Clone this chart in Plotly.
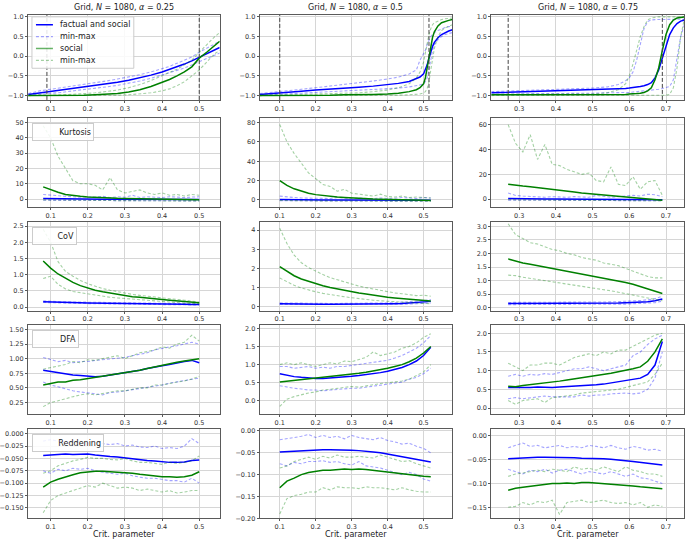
import plotly.graph_objects as go

# ---------------- data ----------------
alpha_labels = ["0.25", "0.5", "0.75"]
crit_25 = [0.09, 0.5]
crit_50 = [0.1, 0.515]
crit_75 = [0.27, 0.69]
legend_names = ["factual and social", "min-max", "social", "min-max"]
metric_labels = ["", "Kurtosis", "CoV", "DFA", "Reddening"]
x_title = "Crit. parameter"

# top row (order parameter) x grids
top_x_25 = [0.04, 0.07, 0.1, 0.13, 0.16, 0.19, 0.22, 0.25, 0.28, 0.31, 0.34, 0.37, 0.4, 0.42, 0.44, 0.46, 0.48, 0.5, 0.52, 0.54, 0.555]
top_fs_25 = [-0.97, -0.93, -0.9, -0.86, -0.82, -0.79, -0.75, -0.71, -0.66, -0.61, -0.55, -0.48, -0.4, -0.34, -0.27, -0.2, -0.12, -0.03, 0.07, 0.16, 0.22]
top_fs_max_25 = [-0.95, -0.88, -0.84, -0.8, -0.76, -0.72, -0.68, -0.63, -0.58, -0.53, -0.47, -0.4, -0.32, -0.26, -0.18, -0.1, -0.02, 0.1, 0.2, 0.3, 0.38]
top_fs_min_25 = [-0.99, -0.97, -0.95, -0.92, -0.88, -0.85, -0.82, -0.78, -0.74, -0.69, -0.63, -0.56, -0.48, -0.42, -0.36, -0.3, -0.22, -0.15, -0.05, 0.03, 0.08]
top_s_25 = [-1.0, -1.0, -1.0, -1.0, -0.99, -0.99, -0.98, -0.97, -0.95, -0.91, -0.85, -0.77, -0.67, -0.59, -0.5, -0.4, -0.27, -0.05, 0.1, 0.27, 0.38]
top_s_max_25 = [-1.0, -1.0, -0.99, -0.98, -0.97, -0.95, -0.93, -0.9, -0.86, -0.8, -0.72, -0.62, -0.5, -0.42, -0.33, -0.22, -0.1, 0.1, 0.3, 0.48, 0.6]
top_s_min_25 = [-1.0, -1.0, -1.0, -1.0, -1.0, -1.0, -1.0, -0.99, -0.99, -0.98, -0.96, -0.93, -0.88, -0.83, -0.75, -0.65, -0.5, -0.35, -0.15, 0.05, 0.15]

top_x_50 = [0.044, 0.08, 0.12, 0.16, 0.2, 0.24, 0.28, 0.32, 0.36, 0.4, 0.43, 0.46, 0.48, 0.49, 0.5, 0.505, 0.51, 0.515, 0.52, 0.525, 0.53, 0.54, 0.55, 0.56, 0.57, 0.58]
top_fs_50 = [-0.97, -0.95, -0.92, -0.89, -0.86, -0.84, -0.81, -0.79, -0.76, -0.72, -0.69, -0.64, -0.58, -0.53, -0.45, -0.35, -0.22, -0.05, 0.12, 0.25, 0.35, 0.47, 0.55, 0.6, 0.64, 0.67]
top_fs_max_50 = [-0.95, -0.92, -0.88, -0.84, -0.8, -0.76, -0.72, -0.68, -0.63, -0.58, -0.53, -0.45, -0.35, -0.1, 0.05, 0.15, 0.3, 0.4, 0.5, 0.55, 0.6, 0.65, 0.7, 0.73, 0.75, 0.76]
top_fs_min_50 = [-0.99, -0.98, -0.96, -0.94, -0.92, -0.9, -0.89, -0.87, -0.85, -0.83, -0.81, -0.78, -0.75, -0.73, -0.7, -0.65, -0.55, -0.35, -0.1, 0.15, 0.3, 0.42, 0.5, 0.55, 0.58, 0.6]
top_s_50 = [-1.0, -1.0, -1.0, -0.99, -0.99, -0.99, -0.98, -0.98, -0.97, -0.96, -0.94, -0.9, -0.85, -0.8, -0.7, -0.55, -0.3, 0.0, 0.28, 0.48, 0.62, 0.77, 0.85, 0.89, 0.91, 0.93]
top_s_max_50 = [-1.0, -0.99, -0.99, -0.98, -0.97, -0.96, -0.95, -0.93, -0.9, -0.86, -0.8, -0.7, -0.55, -0.4, -0.15, 0.1, 0.35, 0.55, 0.7, 0.8, 0.85, 0.9, 0.93, 0.95, 0.96, 0.97]
top_s_min_50 = [-1.0, -1.0, -1.0, -1.0, -1.0, -1.0, -1.0, -1.0, -1.0, -0.99, -0.99, -0.98, -0.97, -0.96, -0.93, -0.9, -0.82, -0.65, -0.35, -0.05, 0.2, 0.5, 0.65, 0.72, 0.77, 0.8]

top_x_75 = [0.224, 0.26, 0.3, 0.34, 0.38, 0.42, 0.46, 0.5, 0.54, 0.57, 0.59, 0.6, 0.61, 0.62, 0.63, 0.64, 0.65, 0.66, 0.67, 0.68, 0.69, 0.7, 0.71, 0.72, 0.73, 0.74, 0.75]
top_fs_75 = [-0.93, -0.92, -0.91, -0.9, -0.89, -0.88, -0.87, -0.86, -0.85, -0.83, -0.82, -0.81, -0.8, -0.79, -0.77, -0.75, -0.72, -0.67, -0.55, -0.35, -0.05, 0.3, 0.55, 0.72, 0.83, 0.89, 0.92]
top_fs_max_75 = [-0.9, -0.89, -0.88, -0.87, -0.86, -0.85, -0.83, -0.81, -0.78, -0.72, -0.62, -0.55, -0.4, -0.1, 0.3, 0.7, 0.88, 0.92, 0.93, 0.93, 0.93, 0.93, 0.93, 0.93, 0.93, 0.94, 0.94]
top_fs_min_75 = [-0.97, -0.96, -0.96, -0.95, -0.95, -0.95, -0.94, -0.94, -0.93, -0.93, -0.92, -0.92, -0.91, -0.9, -0.9, -0.89, -0.88, -0.87, -0.86, -0.84, -0.82, -0.8, -0.77, -0.6, -0.1, 0.5, 0.8]
top_s_75 = [-0.98, -0.98, -0.98, -0.98, -0.98, -0.98, -0.98, -0.98, -0.98, -0.97, -0.97, -0.96, -0.96, -0.95, -0.94, -0.92, -0.88, -0.8, -0.6, -0.3, 0.15, 0.55, 0.8, 0.92, 0.97, 0.99, 1.0]
top_s_max_75 = [-0.97, -0.97, -0.97, -0.97, -0.97, -0.97, -0.97, -0.96, -0.93, -0.85, -0.7, -0.5, -0.2, 0.15, 0.5, 0.75, 0.92, 0.97, 0.99, 1.0, 1.0, 1.0, 1.0, 1.0, 1.0, 1.0, 1.0]
top_s_min_75 = [-1.0, -1.0, -1.0, -1.0, -1.0, -1.0, -1.0, -1.0, -1.0, -1.0, -1.0, -1.0, -1.0, -1.0, -1.0, -1.0, -1.0, -1.0, -1.0, -1.0, -1.0, -0.99, -0.97, -0.8, -0.3, 0.5, 0.95]

# indicator rows x grids
x_25 = [0.08, 0.10, 0.12, 0.14, 0.16, 0.18, 0.20, 0.22, 0.24, 0.26, 0.28, 0.30, 0.32, 0.34, 0.36, 0.38, 0.40, 0.42, 0.44, 0.46, 0.48, 0.50]
x_50 = [0.10, 0.12, 0.14, 0.16, 0.18, 0.20, 0.22, 0.24, 0.26, 0.28, 0.30, 0.32, 0.34, 0.36, 0.38, 0.40, 0.42, 0.44, 0.46, 0.48, 0.50, 0.52]
x_75 = [0.27, 0.29, 0.31, 0.33, 0.35, 0.37, 0.39, 0.41, 0.43, 0.45, 0.47, 0.49, 0.51, 0.53, 0.55, 0.57, 0.59, 0.61, 0.63, 0.65, 0.67, 0.69]

# Kurtosis
kurt_fs_25 = [0.3, 0.2, 0.1, 0.1, 0.0, 0.0, 0.0, 0.0, -0.1, -0.1, -0.1, -0.1, -0.1, -0.2, -0.2, -0.2, -0.2, -0.2, -0.3, -0.3, -0.3, -0.3]
kurt_fs_max_25 = [3.0, 2.5, 2.0, 1.8, 1.5, 1.2, 1.5, 1.2, 1.8, 1.0, 1.5, 1.2, 2.5, 1.0, 1.5, 1.2, 1.0, 1.5, 1.2, 1.0, 1.3, 1.5]
kurt_fs_min_25 = [-0.8, -0.8, -0.9, -0.8, -0.9, -0.9, -1.0, -0.9, -1.0, -1.0, -1.0, -1.1, -1.0, -1.1, -1.1, -1.1, -1.2, -1.1, -1.2, -1.2, -1.2, -1.2]
kurt_s_25 = [8.0, 6.0, 4.5, 3.0, 2.2, 1.8, 1.4, 1.1, 0.9, 0.7, 0.5, 0.4, 0.3, 0.2, 0.1, 0.0, -0.1, -0.2, -0.3, -0.3, -0.4, -0.4]
kurt_s_max_25 = [48, 40, 28, 20, 12, 10, 10, 9, 6, 14, 6, 4, 5, 6, 4, 3, 4, 2.5, 3, 2, 3, 2.5]
kurt_s_min_25 = [-0.5, -0.6, -0.7, -0.8, -0.8, -0.9, -0.9, -0.9, -1.0, -1.0, -1.0, -1.0, -1.1, -1.1, -1.1, -1.1, -1.1, -1.2, -1.2, -1.2, -1.2, -1.2]

kurt_fs_50 = [0.5, 0.3, 0.2, 0.1, 0.1, 0.0, 0.0, 0.0, 0.0, -0.1, -0.1, -0.1, -0.1, -0.2, -0.2, -0.2, -0.2, -0.3, -0.3, -0.3, -0.3, -0.4]
kurt_fs_max_50 = [4, 3, 2.5, 2, 2, 1.5, 2, 1.5, 2.5, 1.5, 1.2, 2, 1.5, 1.2, 2, 1.5, 1.8, 2.5, 2, 1.5, 2.5, 2]
kurt_fs_min_50 = [-0.8, -0.9, -0.9, -1.0, -1.0, -1.0, -1.0, -1.1, -1.1, -1.1, -1.1, -1.1, -1.2, -1.2, -1.2, -1.2, -1.2, -1.2, -1.3, -1.3, -1.3, -1.3]
kurt_s_50 = [20, 15, 11.5, 9, 7, 5.5, 4.5, 3.5, 3, 2.5, 2, 1.6, 1.3, 1.0, 0.8, 0.5, 0.3, 0.1, 0.0, -0.2, -0.4, -0.5]
kurt_s_max_50 = [78, 60, 48, 38, 28, 22, 16, 14, 9, 11, 7, 6, 5, 4, 6, 3.5, 3, 4, 2.5, 3, 2.5, 2]
kurt_s_min_50 = [-0.5, -0.7, -0.8, -0.9, -0.9, -1.0, -1.0, -1.0, -1.1, -1.1, -1.1, -1.1, -1.2, -1.2, -1.2, -1.2, -1.2, -1.3, -1.3, -1.3, -1.3, -1.3]

kurt_fs_75 = [0.5, 0.3, 0.3, 0.2, 0.2, 0.1, 0.1, 0.1, 0.0, 0.0, 0.0, 0.0, 0.0, -0.1, -0.1, -0.1, -0.2, -0.2, -0.3, -0.3, -0.4, -0.5]
kurt_fs_max_75 = [5, 3, 2.5, 2, 2, 1.5, 2, 1.5, 1.5, 2, 1.5, 1.5, 3, 2, 1.5, 2, 2.5, 3, 2.5, 4, 3.5, 2]
kurt_fs_min_75 = [-0.8, -0.8, -0.9, -0.9, -1.0, -1.0, -1.0, -1.0, -1.1, -1.1, -1.1, -1.1, -1.1, -1.2, -1.2, -1.2, -1.2, -1.2, -1.3, -1.3, -1.3, -1.3]
kurt_s_75 = [12, 11, 10.5, 10, 9.2, 8.5, 7.8, 7, 6.3, 5.7, 5, 4.5, 4, 3.5, 3, 2.5, 2, 1.5, 1, 0.5, 0, -0.8]
kurt_s_max_75 = [60, 45, 38, 52, 32, 44, 28, 27, 24, 22, 20, 21, 15, 14, 26, 12, 11, 18, 8, 14, 15, 3]
kurt_s_min_75 = [-0.5, -0.6, -0.7, -0.7, -0.8, -0.8, -0.9, -0.9, -0.9, -1.0, -1.0, -1.0, -1.0, -1.1, -1.1, -1.1, -1.1, -1.2, -1.2, -1.2, -1.3, -1.3]

# CoV
cov_fs_25 = [0.16, 0.15, 0.145, 0.14, 0.135, 0.13, 0.125, 0.12, 0.115, 0.11, 0.108, 0.105, 0.1, 0.098, 0.095, 0.092, 0.09, 0.088, 0.085, 0.083, 0.08, 0.078]
cov_fs_max_25 = [0.19, 0.17, 0.165, 0.16, 0.155, 0.15, 0.145, 0.14, 0.135, 0.13, 0.128, 0.125, 0.12, 0.118, 0.115, 0.112, 0.11, 0.108, 0.105, 0.103, 0.1, 0.098]
cov_fs_min_25 = [0.14, 0.13, 0.125, 0.12, 0.115, 0.11, 0.105, 0.1, 0.097, 0.093, 0.09, 0.088, 0.085, 0.082, 0.08, 0.077, 0.075, 0.072, 0.07, 0.068, 0.066, 0.064]
cov_s_25 = [1.42, 1.2, 1.02, 0.88, 0.76, 0.66, 0.58, 0.52, 0.47, 0.43, 0.39, 0.35, 0.32, 0.3, 0.27, 0.25, 0.23, 0.21, 0.19, 0.17, 0.15, 0.13]
cov_s_max_25 = [2.4, 2.0, 1.4, 1.1, 0.95, 0.82, 0.72, 0.64, 0.57, 0.52, 0.47, 0.42, 0.39, 0.36, 0.33, 0.31, 0.28, 0.26, 0.23, 0.21, 0.18, 0.15]
cov_s_min_25 = [0.88, 0.95, 0.7, 0.56, 0.48, 0.44, 0.4, 0.36, 0.33, 0.3, 0.28, 0.26, 0.24, 0.22, 0.2, 0.18, 0.16, 0.15, 0.13, 0.12, 0.11, 0.1]

cov_fs_50 = [0.16, 0.15, 0.15, 0.14, 0.14, 0.14, 0.13, 0.13, 0.13, 0.13, 0.13, 0.13, 0.13, 0.14, 0.14, 0.15, 0.16, 0.17, 0.19, 0.21, 0.24, 0.28]
cov_fs_max_50 = [0.2, 0.19, 0.19, 0.18, 0.18, 0.18, 0.17, 0.17, 0.17, 0.17, 0.17, 0.17, 0.18, 0.18, 0.19, 0.2, 0.21, 0.23, 0.25, 0.28, 0.32, 0.38]
cov_fs_min_50 = [0.12, 0.12, 0.11, 0.11, 0.11, 0.1, 0.1, 0.1, 0.1, 0.1, 0.1, 0.1, 0.1, 0.1, 0.11, 0.11, 0.12, 0.13, 0.14, 0.15, 0.17, 0.2]
cov_s_50 = [2.1, 1.85, 1.62, 1.45, 1.32, 1.2, 1.1, 1.01, 0.93, 0.86, 0.79, 0.72, 0.66, 0.6, 0.55, 0.5, 0.46, 0.42, 0.39, 0.36, 0.33, 0.3]
cov_s_max_50 = [4.1, 3.3, 2.7, 2.3, 2.05, 1.85, 1.68, 1.52, 1.4, 1.28, 1.18, 1.08, 1.0, 0.92, 0.85, 0.78, 0.72, 0.68, 0.62, 0.58, 0.6, 0.55]
cov_s_min_50 = [1.5, 1.3, 1.12, 0.98, 0.87, 0.78, 0.7, 0.63, 0.57, 0.52, 0.47, 0.42, 0.38, 0.34, 0.31, 0.28, 0.25, 0.23, 0.21, 0.19, 0.17, 0.16]

cov_fs_75 = [0.15, 0.15, 0.15, 0.15, 0.15, 0.15, 0.15, 0.15, 0.15, 0.15, 0.15, 0.16, 0.16, 0.16, 0.17, 0.17, 0.18, 0.19, 0.2, 0.22, 0.25, 0.32]
cov_fs_max_75 = [0.19, 0.19, 0.19, 0.19, 0.19, 0.19, 0.19, 0.19, 0.19, 0.2, 0.2, 0.2, 0.2, 0.21, 0.21, 0.22, 0.23, 0.24, 0.26, 0.29, 0.33, 0.42]
cov_fs_min_75 = [0.11, 0.11, 0.11, 0.11, 0.11, 0.11, 0.11, 0.11, 0.11, 0.11, 0.11, 0.11, 0.12, 0.12, 0.12, 0.12, 0.13, 0.14, 0.15, 0.16, 0.18, 0.24]
cov_s_75 = [1.8, 1.72, 1.65, 1.6, 1.55, 1.5, 1.45, 1.4, 1.35, 1.3, 1.25, 1.2, 1.15, 1.1, 1.05, 1.0, 0.93, 0.86, 0.78, 0.7, 0.62, 0.52]
cov_s_max_75 = [3.1, 2.7, 2.55, 2.4, 2.35, 2.25, 2.15, 2.1, 2.0, 1.95, 1.85, 1.8, 1.75, 1.65, 1.6, 1.55, 1.45, 1.35, 1.25, 1.15, 1.1, 1.1]
cov_s_min_75 = [1.2, 1.18, 1.12, 1.08, 1.03, 0.98, 0.94, 0.9, 0.86, 0.82, 0.78, 0.74, 0.7, 0.66, 0.62, 0.57, 0.52, 0.47, 0.42, 0.36, 0.3, 0.25]

# DFA
dfa_fs_25 = [0.8, 0.78, 0.75, 0.73, 0.72, 0.71, 0.7, 0.69, 0.7, 0.72, 0.73, 0.75, 0.78, 0.8, 0.83, 0.86, 0.88, 0.9, 0.93, 0.95, 0.97, 0.93]
dfa_fs_max_25 = [1.02, 0.98, 0.95, 0.97, 0.93, 0.95, 0.95, 0.97, 0.98, 1.0, 1.0, 1.02, 1.05, 1.08, 1.1, 1.15, 1.18, 1.2, 1.22, 1.25, 1.28, 1.25]
dfa_fs_min_25 = [0.6, 0.55, 0.52, 0.48, 0.45, 0.43, 0.42, 0.4, 0.38, 0.42, 0.43, 0.45, 0.47, 0.48, 0.5, 0.52, 0.55, 0.58, 0.6, 0.62, 0.65, 0.67]
dfa_s_25 = [0.55, 0.57, 0.6, 0.6, 0.63, 0.64, 0.66, 0.68, 0.7, 0.72, 0.73, 0.75, 0.77, 0.8, 0.83, 0.86, 0.88, 0.91, 0.94, 0.96, 0.98, 1.0]
dfa_s_max_25 = [0.82, 0.85, 0.88, 0.9, 0.95, 0.93, 0.98, 0.97, 1.0, 1.02, 1.05, 1.0, 1.05, 1.1, 1.12, 1.15, 1.2, 1.18, 1.25, 1.28, 1.4, 1.3]
dfa_s_min_25 = [0.18, 0.25, 0.28, 0.32, 0.35, 0.38, 0.4, 0.38, 0.4, 0.42, 0.45, 0.45, 0.48, 0.5, 0.5, 0.55, 0.55, 0.58, 0.6, 0.62, 0.65, 0.7]

dfa_fs_50 = [0.75, 0.7, 0.67, 0.65, 0.63, 0.62, 0.62, 0.63, 0.64, 0.66, 0.68, 0.7, 0.72, 0.75, 0.78, 0.82, 0.86, 0.92, 1.0, 1.1, 1.25, 1.48]
dfa_fs_max_50 = [0.95, 0.95, 0.9, 0.92, 0.95, 0.9, 0.93, 0.9, 0.95, 0.95, 0.98, 1.0, 1.02, 1.05, 1.1, 1.12, 1.18, 1.25, 1.35, 1.45, 1.6, 1.8]
dfa_fs_min_50 = [0.42, 0.38, 0.35, 0.33, 0.3, 0.3, 0.28, 0.3, 0.32, 0.33, 0.35, 0.35, 0.38, 0.4, 0.42, 0.45, 0.5, 0.52, 0.6, 0.65, 0.75, 0.9]
dfa_s_50 = [0.52, 0.54, 0.57, 0.58, 0.6, 0.62, 0.64, 0.66, 0.68, 0.7, 0.73, 0.76, 0.79, 0.82, 0.86, 0.9, 0.95, 1.0, 1.08, 1.18, 1.32, 1.5]
dfa_s_max_50 = [1.0, 1.05, 1.0, 1.05, 1.0, 0.95, 1.0, 1.05, 1.02, 1.1, 1.08, 1.15, 1.2, 1.35, 1.25, 1.3, 1.35, 1.45, 1.5, 1.6, 1.75, 1.85]
dfa_s_min_50 = [-0.15, 0.05, 0.12, 0.18, 0.22, 0.25, 0.3, 0.32, 0.35, 0.38, 0.4, 0.38, 0.42, 0.45, 0.48, 0.5, 0.52, 0.55, 0.6, 0.7, 0.8, 1.0]

dfa_fs_75 = [0.55, 0.55, 0.53, 0.55, 0.56, 0.55, 0.55, 0.56, 0.57, 0.57, 0.58, 0.6, 0.62, 0.64, 0.67, 0.7, 0.74, 0.76, 0.8, 0.9, 1.15, 1.78]
dfa_fs_max_75 = [0.85, 0.9, 0.85, 0.9, 0.88, 0.92, 0.9, 0.95, 1.0, 1.05, 1.05, 1.1, 1.05, 1.0, 1.05, 1.1, 1.15, 1.4, 1.5, 1.7, 1.85, 1.95]
dfa_fs_min_75 = [0.25, 0.28, 0.25, 0.28, 0.3, 0.32, 0.3, 0.3, 0.32, 0.3, 0.35, 0.32, 0.35, 0.35, 0.38, 0.4, 0.4, 0.38, 0.4, 0.5, 0.8, 1.5]
dfa_s_75 = [0.58, 0.57, 0.6, 0.62, 0.65, 0.68, 0.7, 0.72, 0.75, 0.78, 0.8, 0.83, 0.86, 0.9, 0.93, 0.97, 1.0, 1.05, 1.1, 1.25, 1.5, 1.85]
dfa_s_max_75 = [1.2, 1.1, 1.0, 1.15, 1.15, 1.2, 1.2, 1.15, 1.25, 1.35, 1.4, 1.45, 1.4, 1.5, 1.45, 1.55, 1.55, 1.65, 1.75, 1.85, 1.95, 2.0]
dfa_s_min_75 = [0.2, 0.1, 0.2, 0.22, 0.25, 0.15, 0.28, 0.3, 0.32, 0.35, 0.4, 0.42, 0.45, 0.48, 0.5, 0.5, 0.55, 0.6, 0.65, 0.7, 0.9, 1.2]

# Reddening
red_fs_25 = [-0.044, -0.043, -0.042, -0.041, -0.042, -0.041, -0.041, -0.043, -0.045, -0.046, -0.047, -0.049, -0.05, -0.052, -0.054, -0.055, -0.057, -0.058, -0.058, -0.057, -0.054, -0.053]
red_fs_max_25 = [-0.015, -0.012, -0.015, -0.018, -0.015, -0.017, -0.02, -0.015, -0.02, -0.022, -0.02, -0.025, -0.023, -0.027, -0.028, -0.025, -0.03, -0.028, -0.03, -0.025, -0.01, -0.02]
red_fs_min_25 = [-0.075, -0.08, -0.072, -0.075, -0.07, -0.072, -0.07, -0.075, -0.078, -0.08, -0.082, -0.08, -0.085, -0.088, -0.09, -0.09, -0.092, -0.095, -0.095, -0.098, -0.09, -0.1]
red_s_25 = [-0.108, -0.098, -0.092, -0.087, -0.083, -0.079, -0.077, -0.076, -0.076, -0.077, -0.078, -0.078, -0.08, -0.082, -0.084, -0.085, -0.087, -0.087, -0.088, -0.087, -0.084, -0.077]
red_s_max_25 = [-0.08, -0.075, -0.065, -0.06, -0.055, -0.052, -0.048, -0.05, -0.05, -0.052, -0.053, -0.05, -0.055, -0.058, -0.058, -0.06, -0.062, -0.058, -0.06, -0.058, -0.055, -0.045]
red_s_min_25 = [-0.16, -0.135, -0.125, -0.12, -0.115, -0.11, -0.105, -0.108, -0.1, -0.105, -0.11, -0.108, -0.11, -0.115, -0.112, -0.115, -0.118, -0.115, -0.12, -0.118, -0.115, -0.115]

red_fs_50 = [-0.048, -0.047, -0.046, -0.045, -0.044, -0.044, -0.043, -0.043, -0.043, -0.044, -0.044, -0.045, -0.046, -0.048, -0.05, -0.053, -0.056, -0.06, -0.063, -0.066, -0.069, -0.071]
red_fs_max_50 = [-0.02, -0.018, -0.015, -0.012, -0.008, -0.015, -0.01, -0.015, -0.012, -0.018, -0.01, -0.015, -0.018, -0.02, -0.015, -0.022, -0.025, -0.03, -0.028, -0.035, -0.04, -0.05]
red_fs_min_50 = [-0.075, -0.08, -0.072, -0.075, -0.07, -0.07, -0.068, -0.072, -0.07, -0.075, -0.078, -0.07, -0.08, -0.082, -0.085, -0.09, -0.095, -0.1, -0.095, -0.1, -0.11, -0.115]
red_s_50 = [-0.13, -0.115, -0.108, -0.1, -0.095, -0.092, -0.09, -0.09, -0.088, -0.087, -0.088, -0.087, -0.088, -0.09, -0.092, -0.095, -0.097, -0.098, -0.1, -0.102, -0.104, -0.105]
red_s_max_50 = [-0.085, -0.08, -0.07, -0.065, -0.06, -0.065, -0.058, -0.062, -0.055, -0.06, -0.06, -0.058, -0.06, -0.062, -0.055, -0.06, -0.065, -0.07, -0.068, -0.075, -0.08, -0.085]
red_s_min_50 = [-0.19, -0.155, -0.148, -0.145, -0.14, -0.14, -0.13, -0.135, -0.128, -0.13, -0.13, -0.132, -0.128, -0.13, -0.13, -0.132, -0.135, -0.13, -0.135, -0.138, -0.14, -0.14]

red_fs_75 = [-0.048, -0.047, -0.046, -0.046, -0.045, -0.045, -0.045, -0.046, -0.046, -0.046, -0.047, -0.047, -0.047, -0.048, -0.049, -0.05, -0.052, -0.054, -0.056, -0.058, -0.06, -0.061]
red_fs_max_75 = [-0.025, -0.02, -0.015, -0.022, -0.02, -0.025, -0.022, -0.02, -0.025, -0.022, -0.025, -0.02, -0.022, -0.025, -0.02, -0.025, -0.028, -0.022, -0.025, -0.03, -0.028, -0.032]
red_fs_min_75 = [-0.07, -0.075, -0.08, -0.072, -0.075, -0.07, -0.078, -0.072, -0.07, -0.075, -0.08, -0.075, -0.078, -0.08, -0.075, -0.08, -0.085, -0.08, -0.088, -0.09, -0.095, -0.1]
red_s_75 = [-0.114, -0.11, -0.108, -0.106, -0.104, -0.102, -0.1, -0.1, -0.099, -0.1, -0.098, -0.098, -0.099, -0.1, -0.101, -0.102, -0.103, -0.105, -0.107, -0.108, -0.11, -0.111]
red_s_max_75 = [-0.085, -0.08, -0.078, -0.075, -0.072, -0.075, -0.07, -0.072, -0.075, -0.065, -0.07, -0.068, -0.072, -0.065, -0.07, -0.075, -0.065, -0.072, -0.075, -0.08, -0.08, -0.085]
red_s_min_75 = [-0.15, -0.148, -0.14, -0.145, -0.138, -0.14, -0.135, -0.165, -0.14, -0.138, -0.135, -0.14, -0.138, -0.135, -0.14, -0.142, -0.14, -0.145, -0.14, -0.15, -0.145, -0.148]

# ---------------- assembly ----------------
panels = [
    (top_x_25, top_fs_25, top_fs_max_25, top_fs_min_25, top_s_25, top_s_max_25, top_s_min_25),
    (top_x_50, top_fs_50, top_fs_max_50, top_fs_min_50, top_s_50, top_s_max_50, top_s_min_50),
    (top_x_75, top_fs_75, top_fs_max_75, top_fs_min_75, top_s_75, top_s_max_75, top_s_min_75),
    (x_25, kurt_fs_25, kurt_fs_max_25, kurt_fs_min_25, kurt_s_25, kurt_s_max_25, kurt_s_min_25),
    (x_50, kurt_fs_50, kurt_fs_max_50, kurt_fs_min_50, kurt_s_50, kurt_s_max_50, kurt_s_min_50),
    (x_75, kurt_fs_75, kurt_fs_max_75, kurt_fs_min_75, kurt_s_75, kurt_s_max_75, kurt_s_min_75),
    (x_25, cov_fs_25, cov_fs_max_25, cov_fs_min_25, cov_s_25, cov_s_max_25, cov_s_min_25),
    (x_50, cov_fs_50, cov_fs_max_50, cov_fs_min_50, cov_s_50, cov_s_max_50, cov_s_min_50),
    (x_75, cov_fs_75, cov_fs_max_75, cov_fs_min_75, cov_s_75, cov_s_max_75, cov_s_min_75),
    (x_25, dfa_fs_25, dfa_fs_max_25, dfa_fs_min_25, dfa_s_25, dfa_s_max_25, dfa_s_min_25),
    (x_50, dfa_fs_50, dfa_fs_max_50, dfa_fs_min_50, dfa_s_50, dfa_s_max_50, dfa_s_min_50),
    (x_75, dfa_fs_75, dfa_fs_max_75, dfa_fs_min_75, dfa_s_75, dfa_s_max_75, dfa_s_min_75),
    (x_25, red_fs_25, red_fs_max_25, red_fs_min_25, red_s_25, red_s_max_25, red_s_min_25),
    (x_50, red_fs_50, red_fs_max_50, red_fs_min_50, red_s_50, red_s_max_50, red_s_min_50),
    (x_75, red_fs_75, red_fs_max_75, red_fs_min_75, red_s_75, red_s_max_75, red_s_min_75),
]
crit_lines = [crit_25, crit_50, crit_75]

W, H = 685, 545
col_px = [(27, 219), (259, 452), (491, 684)]
row_px = [(13, 99), (117, 207), (222, 312), (327, 417), (432, 522)]
x_ranges = [[0.039, 0.555], [0.044, 0.58], [0.224, 0.749]]
x_dtick0 = [0.1, 0.1, 0.3]
y_specs = [
    [dict(range=[-1.11, 1.05], dtick=0.5, tickformat=".1f")] * 3,
    [dict(range=[-5, 53.2], dtick=10, tickformat="d"),
     dict(range=[-7, 85], dtick=20, tickformat="d"),
     dict(range=[-6.1, 65.6], dtick=20, tickformat="d")],
    [dict(range=[-0.11, 2.64], dtick=0.5, tickformat=".1f"),
     dict(range=[-0.2, 4.45], dtick=1, tickformat="d"),
     dict(range=[-0.11, 3.18], dtick=0.5, tickformat=".1f")],
    [dict(range=[0.047, 1.568], dtick=0.25, tickformat=".2f"),
     dict(range=[-0.37, 2.08], dtick=0.5, tickformat=".1f"),
     dict(range=[-0.17, 2.21], dtick=0.5, tickformat=".1f")],
    [dict(range=[-0.171, 0.009], dtick=0.025, tickformat=".3f"),
     dict(range=[-0.2, 0.004], dtick=0.05, tickformat=".2f"),
     dict(range=[-0.173, 0.014], dtick=0.05, tickformat=".2f")],
]
metric_box_w = [0, 62, 45, 47, 72]

BLUE = "#0000ff"
GREEN = "#008000"
BLUE_L = "rgba(0,0,255,0.36)"
GREEN_L = "rgba(0,128,0,0.36)"
DASH = "3px,2px"
FONT = "DejaVu Sans"

fig = go.Figure()
layout = dict(
    width=W, height=H, margin=dict(l=0, r=0, t=0, b=0),
    paper_bgcolor="white", plot_bgcolor="white",
    font=dict(family=FONT, size=7, color="#222"),
    showlegend=False,
)
annotations = []
shapes = []

for i, p in enumerate(panels):
    r, c = divmod(i, 3)
    n = "" if i == 0 else str(i + 1)
    xa, ya = "x" + n, "y" + n
    x, fs, fsmax, fsmin, s, smax, smin = p
    series = [
        (fs, BLUE, "solid", 1.5, legend_names[0]),
        (fsmax, BLUE_L, DASH, 1.1, legend_names[1]),
        (fsmin, BLUE_L, DASH, 1.1, legend_names[1]),
        (s, GREEN, "solid", 1.5, legend_names[2]),
        (smax, GREEN_L, DASH, 1.1, legend_names[3]),
        (smin, GREEN_L, DASH, 1.1, legend_names[3]),
    ]
    for y, col, dash, w, name in series:
        fig.add_trace(go.Scatter(x=x, y=y, mode="lines", name=name,
                                 line=dict(color=col, width=w, dash=dash),
                                 xaxis=xa, yaxis=ya, hoverinfo="skip"))
    x0, x1 = col_px[c]
    t0, t1 = row_px[r]
    ys = y_specs[r][c]
    axis_common = dict(
        showgrid=True, gridcolor="#d6d6d6", gridwidth=1, zeroline=False,
        showline=True, linecolor="#5a5a5a", linewidth=1, mirror=True,
        ticks="outside", ticklen=2, tickcolor="#5a5a5a",
        tickfont=dict(size=6.5, family=FONT, color="#333"),
    )
    layout["xaxis" + n] = dict(domain=[x0 / W, x1 / W], anchor=ya, range=x_ranges[c],
                               tick0=x_dtick0[c], dtick=0.1, tickformat=".1f", **axis_common)
    layout["yaxis" + n] = dict(domain=[1 - t1 / H, 1 - t0 / H], anchor=xa, range=ys["range"],
                               tick0=0, dtick=ys["dtick"], tickformat=ys["tickformat"], **axis_common)
    if r == 0:
        for xv in crit_lines[c]:
            shapes.append(dict(type="line", xref=xa, yref=ya + " domain", x0=xv, x1=xv, y0=0, y1=1,
                               line=dict(color="#444", width=1, dash="4px,2px")))
        annotations.append(dict(
            text="Grid, <i>N</i> = 1080, <i>α</i> = " + alpha_labels[c],
            xref="paper", yref="paper", x=(x0 + x1) / 2 / W, y=1 - 6 / H,
            xanchor="center", yanchor="middle", showarrow=False,
            font=dict(size=8, family=FONT, color="#222")))
    if r == 4:
        annotations.append(dict(
            text=x_title, xref="paper", yref="paper", x=(x0 + x1) / 2 / W, y=1 - 538 / H,
            xanchor="center", yanchor="middle", showarrow=False,
            font=dict(size=8, family=FONT, color="#222")))
    if c == 0 and r > 0:
        bw = metric_box_w[r]
        annotations.append(dict(
            text=metric_labels[r], xref="paper", yref="paper",
            x=31 / W, y=1 - (t0 + 5) / H, xanchor="left", yanchor="top",
            showarrow=False, align="right",
            width=bw - 6, height=12, borderpad=2,
            bgcolor="rgba(255,255,255,0.85)", bordercolor="#cccccc", borderwidth=1,
            font=dict(size=8, family=FONT, color="#222")))

# legend box in the first panel (drawn in paper coordinates)
lg_left, lg_top, lg_right, lg_bottom = 31, 15, 133, 67
shapes.append(dict(type="rect", xref="paper", yref="paper",
                   x0=lg_left / W, x1=lg_right / W, y0=1 - lg_bottom / H, y1=1 - lg_top / H,
                   fillcolor="rgba(255,255,255,0.85)", line=dict(color="#cccccc", width=1)))
legend_styles = [(BLUE, "solid", 1.5), (BLUE_L, DASH, 1.1), ("rgba(0,128,0,0.6)", "solid", 1.5), (GREEN_L, DASH, 1.1)]
for k, (name, (col, dash, w)) in enumerate(zip(legend_names, legend_styles)):
    yc = 1 - (23 + 12 * k) / H
    shapes.append(dict(type="line", xref="paper", yref="paper", x0=35 / W, x1=52 / W, y0=yc, y1=yc,
                       line=dict(color=col, width=w, dash=dash)))
    annotations.append(dict(text=name, xref="paper", yref="paper", x=57 / W, y=yc,
                            xanchor="left", yanchor="middle", showarrow=False,
                            font=dict(size=8, family=FONT, color="#222")))

layout["annotations"] = annotations
layout["shapes"] = shapes
fig.update_layout(**layout)
# remove the default page margin so the 685x545 figure fills the window exactly
fig.write_html("out.html", config={"displayModeBar": False, "staticPlot": True},
               post_script="document.body.style.margin='0';document.body.style.overflow='hidden';")
